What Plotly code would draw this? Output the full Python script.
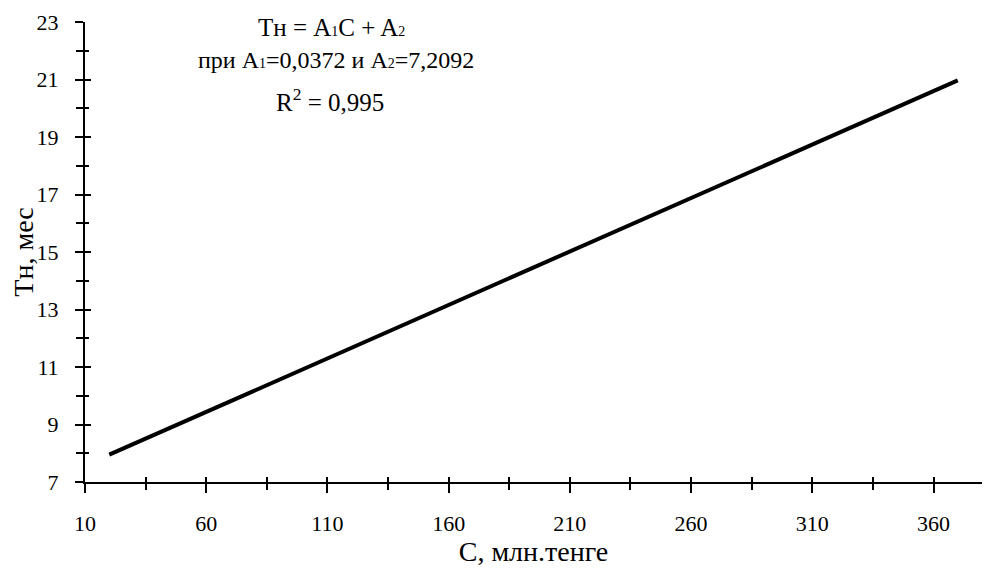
import plotly.graph_objects as go

# data
cost = [20, 370]          # C, млн.тенге
months = [7.95, 20.97]    # Tн, мес

x_ticks = [10, 60, 110, 160, 210, 260, 310, 360]
y_ticks = [7, 9, 11, 13, 15, 17, 19, 21, 23]

FONT = "Liberation Serif"

fig = go.Figure()
fig.add_trace(go.Scatter(x=cost, y=months, mode="lines",
                         line=dict(color="black", width=4), showlegend=False))
# invisible trace for the overlay axes
fig.add_trace(go.Scatter(x=cost, y=months, mode="lines", xaxis="x2", yaxis="y2",
                         line=dict(color="rgba(0,0,0,0)"), showlegend=False, hoverinfo="skip"))

axis_common = dict(showgrid=False, zeroline=False, showline=True, linecolor="black",
                   linewidth=2, tickcolor="black", tickwidth=2, color="black",
                   automargin=False)

fig.update_layout(
    width=986, height=562,
    margin=dict(l=77, r=12, t=14, b=88),
    paper_bgcolor="white", plot_bgcolor="white",
    font=dict(family=FONT, size=22, color="black"),
    xaxis=dict(range=[10, 380], tickmode="array", tickvals=x_ticks,
               ticktext=[str(v) for v in x_ticks],
               ticks="outside", ticklen=9,
               minor=dict(dtick=25, tick0=10, ticks="outside", ticklen=6,
                          tickcolor="black", tickwidth=2),
               ticklabelstandoff=12,
               tickfont=dict(family=FONT, size=22),
               title=dict(text="С, млн.тенге", font=dict(family=FONT, size=28), standoff=4),
               **axis_common),
    yaxis=dict(range=[7, 23], tickmode="array", tickvals=y_ticks,
               ticktext=[str(v) for v in y_ticks],
               ticks="outside", ticklen=8,
               minor=dict(dtick=1, tick0=7, ticks="outside", ticklen=7,
                          tickcolor="black", tickwidth=2),
               ticklabelstandoff=12,
               tickfont=dict(family=FONT, size=22),
               title=dict(text="Тн, мес", font=dict(family=FONT, size=28), standoff=4),
               **axis_common),
    xaxis2=dict(overlaying="x", matches="x", showticklabels=False,
                tickmode="array", tickvals=x_ticks, ticks="inside", ticklen=5,
                minor=dict(dtick=25, tick0=10, ticks="inside", ticklen=5,
                           tickcolor="black", tickwidth=2),
                **axis_common),
    yaxis2=dict(overlaying="y", matches="y", showticklabels=False,
                tickmode="array", tickvals=y_ticks, ticks="inside", ticklen=6,
                minor=dict(dtick=1, tick0=7, ticks="inside", ticklen=4,
                           tickcolor="black", tickwidth=2),
                **axis_common),
)

sub = "<span style='font-size:14px'>{}</span>"
ann_font = dict(family=FONT, size=25, color="black")
fig.add_annotation(xref="paper", yref="paper", x=0.275, y=0.987, xanchor="center", yanchor="middle",
                   text="Тн = A" + sub.format("1") + "C + A" + sub.format("2"),
                   showarrow=False, font=ann_font)
fig.add_annotation(xref="paper", yref="paper", x=0.28, y=0.917, xanchor="center", yanchor="middle",
                   text="при A" + sub.format("1") + "=0,0372 и A" + sub.format("2") + "=7,2092",
                   showarrow=False, font=dict(family=FONT, size=24, color="black"))
fig.add_annotation(xref="paper", yref="paper", x=0.273, y=0.83, xanchor="center", yanchor="middle",
                   text="R<sup>2</sup> = 0,995",
                   showarrow=False, font=ann_font)

fig.write_html("out.html")
